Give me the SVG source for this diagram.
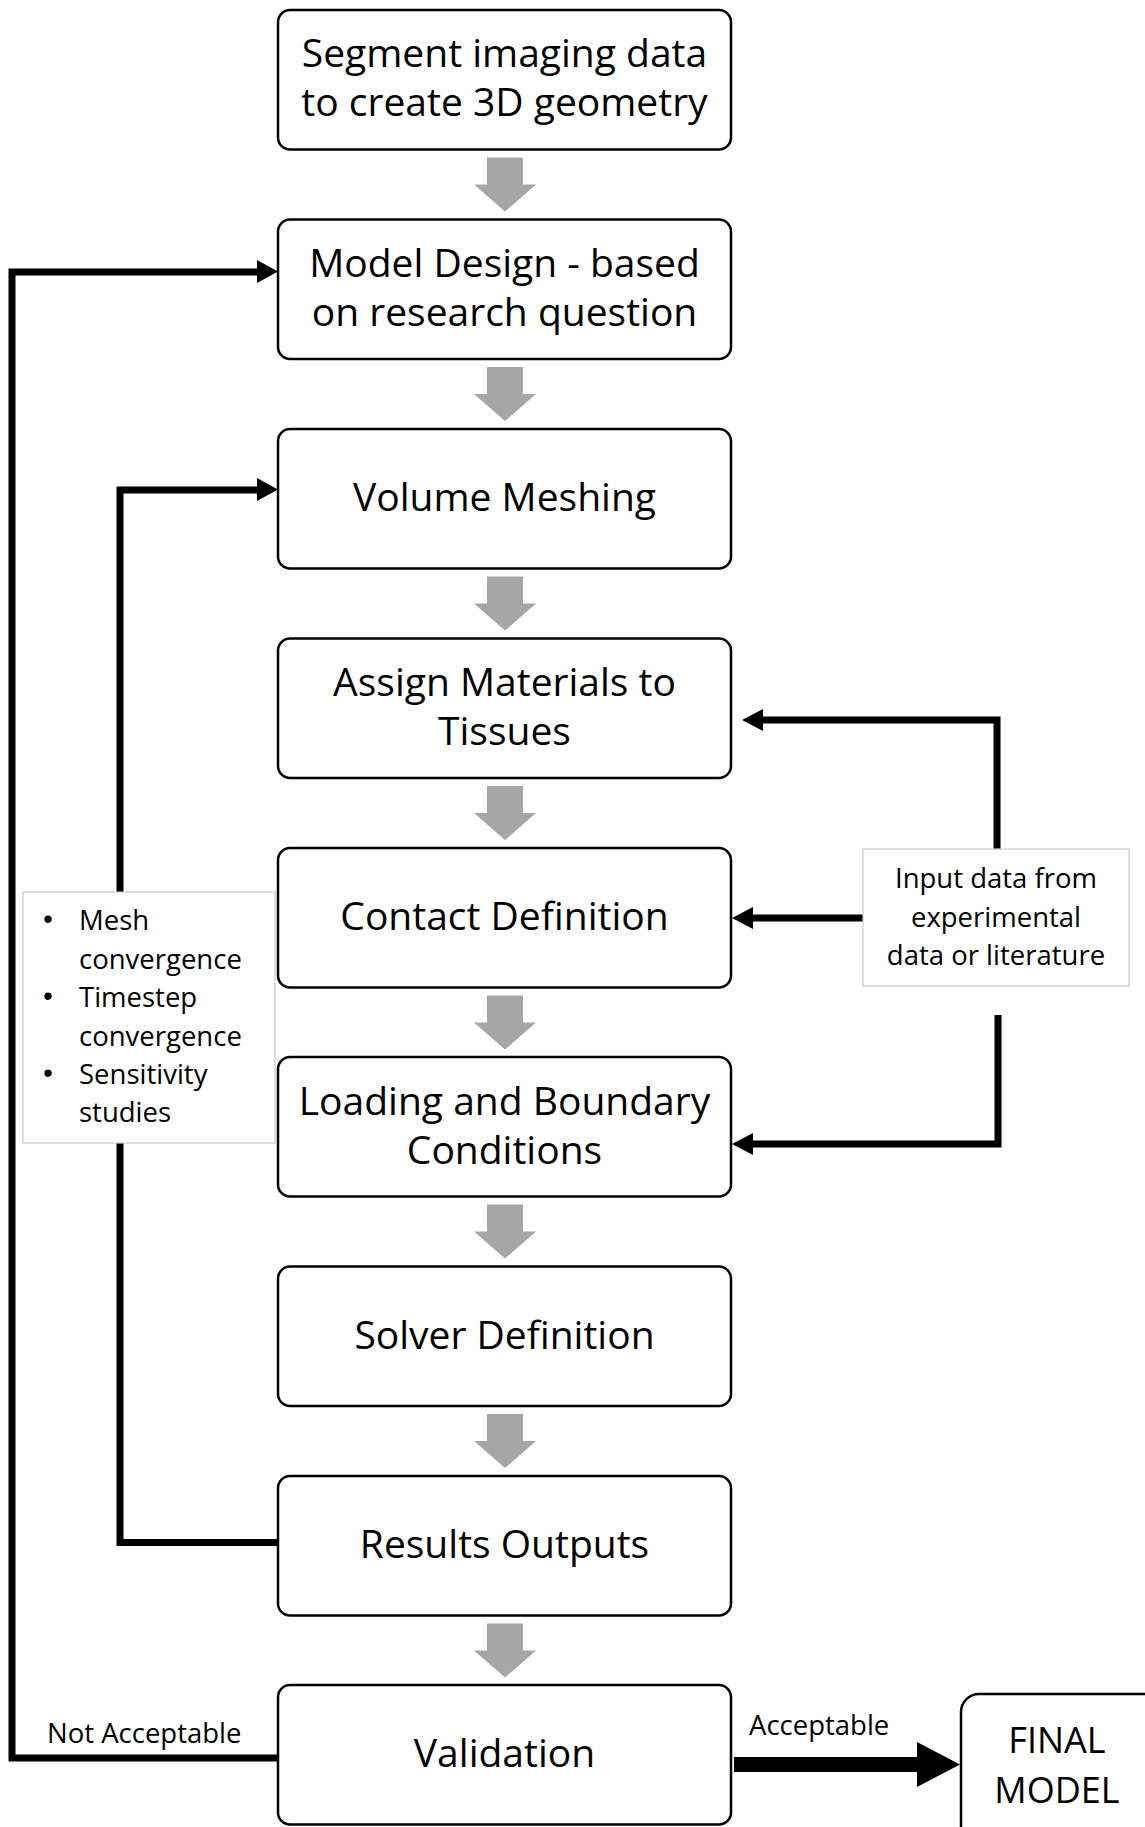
<svg xmlns="http://www.w3.org/2000/svg" xmlns:xlink="http://www.w3.org/1999/xlink" width="1145" height="1827" viewBox="0 0 1145 1827">
<style>
.box{fill:#fff;stroke:#000;stroke-width:2.5}
.note{fill:#fff;stroke:#c8c8c8;stroke-width:1.2}
.t{font-family:"Open Sans","Liberation Sans",sans-serif;font-size:39px;fill:#000;text-anchor:middle}
.s{font-family:"Open Sans","Liberation Sans",sans-serif;font-size:27.5px;fill:#000}
.sc{text-anchor:middle}
.b{font-family:"Liberation Sans",sans-serif;font-size:27px;fill:#000;text-anchor:middle}
.ln{fill:none;stroke:#000;stroke-width:7}
.hd{fill:#000}
.g{fill:#a6a6a6}
</style>
<defs>
<polygon id="ga" points="487,8 523,8 523,35 536,35 505,62 474,35 487,35"/>
</defs>
<rect width="1145" height="1827" fill="#fff"/>

<g id="flow-arrows" class="g">
<use xlink:href="#ga" href="#ga" transform="translate(0,149.5)"/>
<use xlink:href="#ga" href="#ga" transform="translate(0,359)"/>
<use xlink:href="#ga" href="#ga" transform="translate(0,568.5)"/>
<use xlink:href="#ga" href="#ga" transform="translate(0,778)"/>
<use xlink:href="#ga" href="#ga" transform="translate(0,987.5)"/>
<use xlink:href="#ga" href="#ga" transform="translate(0,1196.5)"/>
<use xlink:href="#ga" href="#ga" transform="translate(0,1406)"/>
<use xlink:href="#ga" href="#ga" transform="translate(0,1615.5)"/>
</g>

<g id="connectors">
<path class="ln" d="M281 1758 H12 V272 H258"/>
<polygon class="hd" points="257,260 278,271.5 257,283"/>
<path class="ln" d="M283 1542.5 H120 V490 H258"/>
<polygon class="hd" points="257,478 278,489.5 257,501"/>
<path class="ln" d="M997 849 V720 H762"/>
<polygon class="hd" points="763,709 742,720 763,731"/>
<path class="ln" d="M863 918 H752"/>
<polygon class="hd" points="753,907 732,918 753,929"/>
<path class="ln" d="M998 1015 V1144 H752"/>
<polygon class="hd" points="753,1133 732,1144 753,1155"/>
<rect class="hd" x="734" y="1757" width="184" height="15"/>
<polygon class="hd" points="917,1742 960,1764.5 917,1787"/>
<text class="s" x="47" y="1743">Not Acceptable</text>
<text class="s" x="749" y="1735">Acceptable</text>
</g>

<g id="n1"><rect class="box" x="278" y="10" width="453" height="139.5" rx="12"/>
<text class="t" x="504.5" y="67">Segment imaging data</text><text class="t" x="504.5" y="116">to create 3D geometry</text></g>
<g id="n2"><rect class="box" x="278" y="219.5" width="453" height="139.5" rx="12"/>
<text class="t" x="504.5" y="276.5">Model Design - based</text><text class="t" x="504.5" y="325.5">on research question</text></g>
<g id="n3"><rect class="box" x="278" y="429" width="453" height="139.5" rx="12"/>
<text class="t" x="504.5" y="511">Volume Meshing</text></g>
<g id="n4"><rect class="box" x="278" y="638.5" width="453" height="139.5" rx="12"/>
<text class="t" x="504.5" y="695.5">Assign Materials to</text><text class="t" x="504.5" y="744.5">Tissues</text></g>
<g id="n5"><rect class="box" x="278" y="848" width="453" height="139.5" rx="12"/>
<text class="t" x="504.5" y="930">Contact Definition</text></g>
<g id="n6"><rect class="box" x="278" y="1057" width="453" height="139.5" rx="12"/>
<text class="t" x="504.5" y="1115">Loading and Boundary</text><text class="t" x="504.5" y="1164">Conditions</text></g>
<g id="n7"><rect class="box" x="278" y="1266.5" width="453" height="139.5" rx="12"/>
<text class="t" x="504.5" y="1348.5">Solver Definition</text></g>
<g id="n8"><rect class="box" x="278" y="1476" width="453" height="139.5" rx="12"/>
<text class="t" x="504.5" y="1558">Results Outputs</text></g>
<g id="n9"><rect class="box" x="278" y="1685" width="453" height="139.5" rx="12"/>
<text class="t" x="504.5" y="1767">Validation</text></g>
<g id="n10"><rect class="box" x="961" y="1694" width="220" height="160" rx="18"/>
<text class="t" style="font-size:36px" x="1057" y="1753">FINAL</text><text class="t" style="font-size:36px" x="1057" y="1803">MODEL</text></g>

<g id="checks">
<rect class="note" x="23" y="892" width="252" height="251"/>
<text class="b" x="48" y="928">•</text><text class="s" x="79" y="930">Mesh</text>
<text class="s" x="79" y="968.5">convergence</text>
<text class="b" x="48" y="1005">•</text><text class="s" x="79" y="1007">Timestep</text>
<text class="s" x="79" y="1045.5">convergence</text>
<text class="b" x="48" y="1082">•</text><text class="s" x="79" y="1084">Sensitivity</text>
<text class="s" x="79" y="1122">studies</text>
</g>

<g id="input">
<rect class="note" x="863" y="849" width="266" height="137"/>
<text class="s sc" x="996" y="888">Input data from</text>
<text class="s sc" x="996" y="927">experimental</text>
<text class="s sc" x="996" y="965">data or literature</text>
</g>
</svg>
